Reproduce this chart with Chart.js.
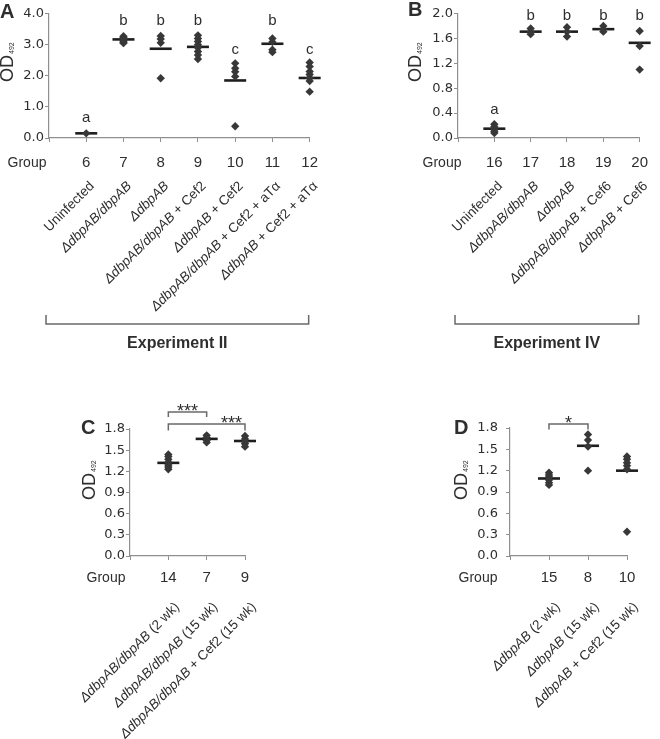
<!DOCTYPE html>
<html>
<head>
<meta charset="utf-8">
<script src="https://cdn.jsdelivr.net/npm/chart.js@4.4.1/dist/chart.umd.min.js"></script>
<style>
  body { margin: 0; background: #fff; width: 660px; height: 739px; position: relative; overflow: hidden; }
  canvas { position: absolute; }
</style>
</head>
<body>
<canvas id="panelA" width="330" height="360" style="left:0;top:0"></canvas>
<canvas id="panelB" width="330" height="360" style="left:330px;top:0"></canvas>
<canvas id="panelC" width="330" height="379" style="left:0;top:360px"></canvas>
<canvas id="panelD" width="330" height="379" style="left:330px;top:360px"></canvas>
<script>
// ---- panel A : Experiment II ----
const groupsA = ['6', '7', '8', '9', '10', '11', '12'];
const strainA = ['', 'ΔdbpAB/dbpAB', 'ΔdbpAB', 'ΔdbpAB/dbpAB', 'ΔdbpAB', 'ΔdbpAB/dbpAB', 'ΔdbpAB'];
const extraA = ['Uninfected', '', '', ' + Cef2', ' + Cef2', ' + Cef2 + aTα', ' + Cef2 + aTα'];
const valuesA = [
  [0.15],
  [3.27, 3.23, 3.19, 3.16, 3.12, 3.08, 3.05],
  [3.28, 3.18, 3.06, 1.92],
  [3.3, 3.2, 3.1, 3.0, 2.9, 2.78, 2.67, 2.54],
  [2.4, 2.24, 2.13, 1.98, 0.38],
  [3.2, 3.09, 2.84, 2.76],
  [2.43, 2.3, 2.14, 2.04, 1.93, 1.83, 1.49]
];
const meansA = [0.15, 3.17, 2.87, 2.93, 1.85, 3.03, 1.93];
const lettersA = ['a', 'b', 'b', 'b', 'c', 'b', 'c'];
const letterLevelA = [0.66, 3.78, 3.78, 3.78, 2.83, 3.78, 2.83];
const yTicksA = [0, 1, 2, 3, 4];

// ---- panel B : Experiment IV ----
const groupsB = ['16', '17', '18', '19', '20'];
const strainB = ['', 'ΔdbpAB/dbpAB', 'ΔdbpAB', 'ΔdbpAB/dbpAB', 'ΔdbpAB'];
const extraB = ['Uninfected', '', '', ' + Cef6', ' + Cef6'];
const valuesB = [
  [0.22, 0.18, 0.15, 0.11, 0.08],
  [1.76, 1.71, 1.67],
  [1.78, 1.71, 1.63],
  [1.8, 1.75, 1.71],
  [1.72, 1.48, 1.1]
];
const meansB = [0.15, 1.71, 1.71, 1.75, 1.53];
const lettersB = ['a', 'b', 'b', 'b', 'b'];
const letterLevelB = [0.45, 1.96, 1.96, 1.96, 1.96];
const yTicksB = [0, 0.4, 0.8, 1.2, 1.6, 2.0];

// ---- panel C ----
const groupsC = ['14', '7', '9'];
const strainC = ['ΔdbpAB/dbpAB', 'ΔdbpAB/dbpAB', 'ΔdbpAB/dbpAB'];
const extraC = [' (2 wk)', ' (15 wk)', ' + Cef2 (15 wk)'];
const valuesC = [
  [1.44, 1.41, 1.37, 1.33, 1.29, 1.26, 1.23],
  [1.71, 1.68, 1.64, 1.61],
  [1.7, 1.66, 1.62, 1.59, 1.55]
];
const meansC = [1.32, 1.66, 1.63];
const yTicksC = [0, 0.3, 0.6, 0.9, 1.2, 1.5, 1.8];

// ---- panel D ----
const groupsD = ['15', '8', '10'];
const strainD = ['ΔdbpAB', 'ΔdbpAB', 'ΔdbpAB'];
const extraD = [' (2 wk)', ' (15 wk)', ' + Cef2 (15 wk)'];
const valuesD = [
  [1.17, 1.14, 1.11, 1.07, 1.03, 1.0],
  [1.71, 1.63, 1.54, 1.2],
  [1.4, 1.36, 1.31, 1.27, 1.22, 0.34]
];
const meansD = [1.09, 1.55, 1.2];
const yTicksD = [0, 0.3, 0.6, 0.9, 1.2, 1.5, 1.8];

const SANS = '"Liberation Sans", Arial, sans-serif';
const VERD = '"DejaVu Sans", Verdana, sans-serif';
const COL_TEXT = '#2e2e2e';
const COL_AXIS = '#8f8f8f';
const COL_MARK = '#383838';

function toPoints(values) {
  const pts = [];
  values.forEach((list, i) => list.forEach(v => pts.push({ x: i + 1, y: v })));
  return pts;
}

function drawRotatedLabel(ctx, x, y, italicPart, plainPart) {
  const fi = 'italic 13.5px ' + SANS;
  const fn = '13.5px ' + SANS;
  ctx.save();
  ctx.translate(x, y);
  ctx.rotate(-Math.PI / 4);
  ctx.textBaseline = 'middle';
  ctx.textAlign = 'left';
  ctx.font = fi;
  const wi = ctx.measureText(italicPart).width;
  ctx.font = fn;
  const wn = ctx.measureText(plainPart).width;
  const start = -(wi + wn);
  ctx.font = fi;
  ctx.fillText(italicPart, start, 0);
  ctx.font = fn;
  ctx.fillText(plainPart, start + wi, 0);
  ctx.restore();
}

function annotations(p) {
  return {
    id: 'annot',
    afterDraw(chart) {
      const ctx = chart.ctx;
      const xs = chart.scales.x;
      const ys = chart.scales.y;
      const area = chart.chartArea;
      ctx.save();
      ctx.fillStyle = COL_TEXT;

      // panel letter
      ctx.font = 'bold 20px ' + SANS;
      ctx.textAlign = 'left';
      ctx.textBaseline = 'alphabetic';
      ctx.fillText(p.letter, p.letterAt[0], p.letterAt[1]);

      // OD492
      ctx.save();
      ctx.translate(p.odAt[0], p.odAt[1]);
      ctx.rotate(-Math.PI / 2);
      ctx.font = '18px ' + SANS;
      ctx.fillText('OD', 0, 0);
      const w = ctx.measureText('OD').width;
      ctx.font = '7px ' + SANS;
      ctx.fillText('492', w + 1, 1);
      ctx.restore();

      // "Group" row title
      ctx.font = '14px ' + SANS;
      ctx.textAlign = 'center';
      ctx.textBaseline = 'middle';
      ctx.fillText('Group', p.groupX, area.bottom + 4 + p.xPad + 9);

      // rotated strain labels
      p.groups.forEach((g, i) => {
        drawRotatedLabel(ctx, xs.getPixelForValue(i + 1) + p.labelDx, area.bottom + p.labelDy, p.strain[i], p.extra[i]);
      });

      // letters over groups
      if (p.letters) {
        ctx.font = '15px ' + SANS;
        ctx.textAlign = 'center';
        ctx.textBaseline = 'middle';
        p.letters.forEach((t, i) => {
          ctx.fillText(t, xs.getPixelForValue(i + 1), ys.getPixelForValue(p.letterLevel[i]));
        });
      }

      // significance brackets
      if (p.sig) {
        ctx.strokeStyle = '#6a6a6a';
        ctx.lineWidth = 1.5;
        p.sig.forEach(s => {
          const x1 = xs.getPixelForValue(s.from), x2 = xs.getPixelForValue(s.to);
          const yt = ys.getPixelForValue(s.level), yb = ys.getPixelForValue(s.drop);
          ctx.beginPath();
          ctx.moveTo(x1, yb);
          ctx.lineTo(x1, yt);
          ctx.lineTo(x2, yt);
          ctx.lineTo(x2, yb);
          ctx.stroke();
          ctx.font = '18px ' + SANS;
          ctx.textAlign = 'center';
          ctx.textBaseline = 'alphabetic';
          ctx.fillText(s.text, xs.getPixelForValue(s.textAt), yt + 5);
        });
      }

      // experiment bracket
      if (p.experiment) {
        const left = area.left - 3, right = area.right - 1, y = area.bottom + 186;
        ctx.strokeStyle = '#6a6a6a';
        ctx.lineWidth = 1.5;
        ctx.beginPath();
        ctx.moveTo(left, y - 9);
        ctx.lineTo(left, y);
        ctx.lineTo(right, y);
        ctx.lineTo(right, y - 9);
        ctx.stroke();
        ctx.font = 'bold 16px ' + SANS;
        ctx.textAlign = 'center';
        ctx.textBaseline = 'middle';
        ctx.fillText(p.experiment, (left + right) / 2, y + 20);
      }
      ctx.restore();
    }
  };
}

function panel(id, p) {
  const canvas = document.getElementById(id);
  const [cl, ct, cr, cb] = p.area;
  new Chart(canvas, {
    type: 'scatter',
    data: {
      datasets: [
        {
          data: toPoints(p.values),
          pointStyle: 'rectRot',
          pointRadius: 4.2,
          backgroundColor: COL_MARK,
          borderColor: COL_MARK,
          borderWidth: 0,
          clip: false
        },
        {
          data: p.means.map((v, i) => ({ x: i + 1, y: v })),
          pointStyle: 'line',
          pointRadius: 11,
          borderColor: '#1e1e1e',
          borderWidth: 2.6,
          clip: false
        }
      ]
    },
    options: {
      responsive: false,
      animation: false,
      events: [],
      layout: { padding: { left: 0, top: ct, right: canvas.width - cr, bottom: 0 } },
      plugins: { legend: { display: false }, tooltip: { enabled: false } },
      scales: {
        x: {
          type: 'linear',
          min: 0,
          max: p.groups.length,
          afterBuildTicks: s => { s.ticks = [0, ...p.groups.map((g, i) => i + 1)].map(v => ({ value: v })); },
          afterFit: s => { s.height = canvas.height - cb; },
          grid: { drawOnChartArea: false, color: COL_AXIS, tickLength: 4 },
          border: { color: COL_AXIS, width: 1.2 },
          ticks: {
            autoSkip: false,
            maxRotation: 0,
            padding: p.xPad,
            color: COL_TEXT,
            font: { family: SANS, size: 15 },
            callback: v => (v >= 1 ? p.groups[v - 1] : '')
          }
        },
        y: {
          min: p.yTicks[0],
          max: p.yTicks[p.yTicks.length - 1],
          afterBuildTicks: s => { s.ticks = p.yTicks.map(v => ({ value: v })); },
          afterFit: s => { s.width = cl; },
          grid: { drawOnChartArea: false, color: COL_AXIS, tickLength: 4 },
          border: { color: COL_AXIS, width: 1.2 },
          ticks: {
            padding: p.yPad,
            color: COL_TEXT,
            font: { family: VERD, size: 13 },
            callback: v => v.toFixed(1)
          }
        }
      }
    },
    plugins: [annotations(p)]
  });
}

panel('panelA', {
  groups: groupsA, strain: strainA, extra: extraA, values: valuesA, means: meansA,
  letters: lettersA, letterLevel: letterLevelA, yTicks: yTicksA,
  area: [49, 11, 321, 138], xPad: 12, yPad: 1,
  letter: 'A', letterAt: [0, 18], odAt: [13, 82], groupX: 27,
  labelDx: 6, labelDy: 46, experiment: 'Experiment II'
});

panel('panelB', {
  groups: groupsB, strain: strainB, extra: extraB, values: valuesB, means: meansB,
  letters: lettersB, letterLevel: letterLevelB, yTicks: yTicksB,
  area: [128, 11, 322, 138], xPad: 12, yPad: 1,
  letter: 'B', letterAt: [78, 16], odAt: [91, 82], groupX: 112,
  labelDx: 6, labelDy: 46, experiment: 'Experiment IV'
});

panel('panelC', {
  groups: groupsC, strain: strainC, extra: extraC, values: valuesC, means: meansC,
  yTicks: yTicksC,
  area: [130, 69, 245, 196], xPad: 9, yPad: 1,
  letter: 'C', letterAt: [81, 74], odAt: [95, 140], groupX: 106,
  labelDx: 9, labelDy: 49,
  sig: [
    { from: 1, to: 2, level: 2.04, drop: 1.97, text: '***', textAt: 1.5 },
    { from: 1, to: 3, level: 1.87, drop: 1.78, text: '***', textAt: 2.65 }
  ]
});

panel('panelD', {
  groups: groupsD, strain: strainD, extra: extraD, values: valuesD, means: meansD,
  yTicks: yTicksD,
  area: [180, 68, 297, 196], xPad: 9, yPad: 8,
  letter: 'D', letterAt: [124, 74], odAt: [137, 140], groupX: 148,
  labelDx: 9, labelDy: 49,
  sig: [
    { from: 1, to: 2, level: 1.855, drop: 1.78, text: '*', textAt: 1.5 }
  ]
});
</script>
</body>
</html>
